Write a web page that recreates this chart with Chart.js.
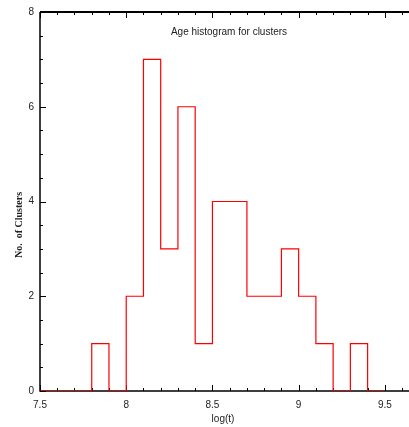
<!DOCTYPE html>
<html>
<head>
<meta charset="utf-8">
<script src="https://cdn.jsdelivr.net/npm/chart.js@4"></script>
<style>
  html, body { margin: 0; padding: 0; background: #fff; }
  #chart { display: block; }
</style>
</head>
<body>
<canvas id="chart" width="409" height="427"></canvas>
<script>
// histogram bins (left edges) and counts
const binEdges = [7.5, 7.6, 7.7, 7.8, 7.9, 8.0, 8.1, 8.2, 8.3, 8.4, 8.5, 8.6, 8.7, 8.8, 8.9, 9.0, 9.1, 9.2, 9.3, 9.4, 9.5];
const counts   = [0, 0, 0, 1, 0, 2, 7, 3, 6, 1, 4, 4, 2, 2, 3, 2, 1, 0, 1, 0];
const xTicks = [7.5, 8, 8.5, 9, 9.5];
const yTicks = [0, 2, 4, 6, 8];
const xMinor = [7.6, 7.7, 7.8, 7.9, 8.1, 8.2, 8.3, 8.4, 8.6, 8.7, 8.8, 8.9, 9.1, 9.2, 9.3, 9.4, 9.6];
const yMinor = [0.5, 1, 1.5, 2.5, 3, 3.5, 4.5, 5, 5.5, 6.5, 7, 7.5];
const titleText = 'Age histogram for clusters';
const xTitle = 'log(t)';
const yTitle = 'No.  of Clusters';

// each bin's value sits on its left edge, closing edge at 0
const points = binEdges.map((e, i) => ({ x: e, y: i < counts.length ? counts[i] : 0 }));

const axesPlugin = {
    id: 'idlAxes',
    beforeDatasetsDraw(chart) {
        const c = chart.ctx;
        const a = chart.chartArea;
        const xs = chart.scales.x, ys = chart.scales.y;
        c.save();
        c.strokeStyle = '#000';
        // frame: left, bottom, top
        c.lineWidth = 1.5;
        c.beginPath();
        c.moveTo(a.left, a.top);
        c.lineTo(a.left, a.bottom);
        c.lineTo(a.right, a.bottom);
        c.stroke();
        c.lineWidth = 2.2;
        c.beginPath();
        c.moveTo(a.left, a.top);
        c.lineTo(a.right, a.top);
        c.stroke();
        // x ticks, bottom and top
        c.lineWidth = 1;
        const xt = (v, len) => {
            const px = Math.round(xs.getPixelForValue(v)) + 0.5;
            c.beginPath();
            c.moveTo(px, a.bottom); c.lineTo(px, a.bottom - len);
            c.moveTo(px, a.top); c.lineTo(px, a.top + len);
            c.stroke();
        };
        xTicks.forEach(v => xt(v, 6));
        xMinor.forEach(v => xt(v, 3));
        const yt = (v, len) => {
            const py = Math.round(ys.getPixelForValue(v)) + 0.5;
            c.beginPath();
            c.moveTo(a.left, py); c.lineTo(a.left + len, py);
            c.stroke();
        };
        yTicks.forEach(v => yt(v, 6));
        yMinor.forEach(v => yt(v, 3));
        c.restore();
    },
    afterDraw(chart) {
        const c = chart.ctx;
        c.save();
        c.fillStyle = '#222';
        c.font = '10px "Liberation Sans", Arial, sans-serif';
        c.textAlign = 'center';
        c.textBaseline = 'alphabetic';
        c.fillText(titleText, 229, 35);
        c.fillText(xTitle, 223, 422);
        c.translate(22, 225);
        c.rotate(-Math.PI / 2);
        c.font = 'bold 10px "Liberation Serif", "DejaVu Serif", serif';
        c.fillText(yTitle, 0, 0);
        c.restore();
    }
};

new Chart(document.getElementById('chart'), {
    type: 'line',
    data: {
        datasets: [{
            data: points,
            stepped: 'before',
            borderColor: '#ff0000',
            borderWidth: 1.2,
            pointRadius: 0,
            fill: false
        }]
    },
    options: {
        responsive: false,
        animation: false,
        layout: { padding: { top: 12, right: 0, left: 0, bottom: 0 } },
        plugins: {
            legend: { display: false },
            tooltip: { enabled: false }
        },
        scales: {
            x: {
                type: 'linear',
                min: 7.5,
                max: 9.64,
                grid: { display: false, drawTicks: false },
                border: { display: false },
                afterBuildTicks: s => { s.ticks = xTicks.map(v => ({ value: v })); },
                afterFit: s => { s.height = 36; },
                ticks: {
                    padding: 8,
                    color: '#222',
                    font: { family: '"Liberation Sans", Arial, sans-serif', size: 10 },
                    maxRotation: 0,
                    autoSkip: false,
                    callback: v => String(v)
                }
            },
            y: {
                min: 0,
                max: 8,
                grid: { display: false, drawTicks: false },
                border: { display: false },
                afterBuildTicks: s => { s.ticks = yTicks.map(v => ({ value: v })); },
                afterFit: s => { s.width = 40; },
                ticks: {
                    padding: 6,
                    color: '#222',
                    font: { family: '"Liberation Sans", Arial, sans-serif', size: 10 },
                    callback: v => String(v)
                }
            }
        }
    },
    plugins: [axesPlugin]
});
</script>
</body>
</html>
